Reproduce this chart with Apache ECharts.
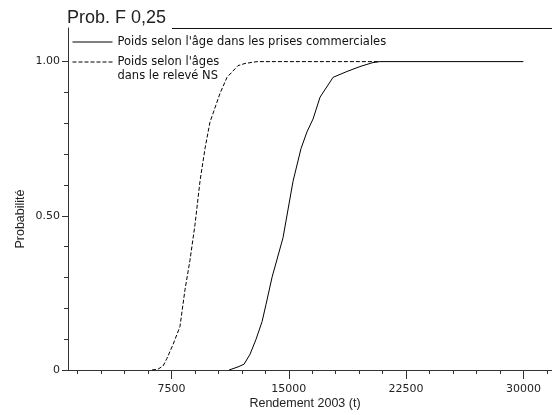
<!DOCTYPE html>
<html>
<head>
<meta charset="utf-8">
<script src="https://cdn.jsdelivr.net/npm/echarts@6/dist/echarts.min.js"></script>
<style>
  html, body { margin: 0; padding: 0; background: #fff; }
  #chart { width: 552px; height: 415px; }
</style>
</head>
<body>
<div id="chart"></div>
<script>
// courbe des prises commerciales (trait plein)
const rendementCom = [11180, 11750, 12140, 12520, 12900, 13290, 13540, 13930, 14630, 15270, 15780, 16160, 16550, 17000, 17830, 18720, 19550, 20380, 20830, 30000];
const probCom = [0, 0.010, 0.019, 0.051, 0.099, 0.157, 0.212, 0.301, 0.429, 0.612, 0.718, 0.772, 0.814, 0.885, 0.949, 0.968, 0.984, 0.997, 1, 1];

// courbe du relevé NS (pointillé)
const rendementNS = [6250, 6640, 6960, 7210, 7600, 8040, 8360, 8680, 9000, 9320, 9640, 9960, 10600, 11050, 11750, 12200, 12970, 20700];
const probNS = [0, 0.003, 0.013, 0.038, 0.083, 0.141, 0.260, 0.356, 0.471, 0.612, 0.718, 0.804, 0.897, 0.949, 0.987, 0.994, 1, 1];

// graduations
const xTicksMinor = [1500, 3000, 4500, 6000, 7500, 9000, 10500, 12000, 13500, 15000, 16500, 18000, 19500, 21000, 22500, 24000, 25500, 27000, 28500, 30000, 31500];
const xTicksMajor = [7500, 15000, 22500, 30000];
const yTicksMinor = [0.1, 0.2, 0.3, 0.4, 0.6, 0.7, 0.8, 0.9];
const yTicksMajor = [0, 0.5, 1];

const nomCom = 'Poids selon l\'âge dans les prises commerciales';
const nomNS = 'Poids selon l\'âges\ndans le relevé NS';

let chart = echarts.init(document.getElementById('chart'));

function zip(xs, ys) {
    let out = [];
    for (let i = 0; i < xs.length; i++) out.push([xs[i], ys[i]]);
    return out;
}

const axisColor = '#333';
const dash = [4, 2];
const xMin = 880, xMax = 31830;
const yMin = 0, yMax = 1.109;

let option = {
    animation: false,
    backgroundColor: '#fff',
    title: {
        text: 'Prob. F 0,25',
        left: 67,
        top: 9,
        padding: 0,
        textStyle: { fontFamily: 'Liberation Sans', fontSize: 18, fontWeight: 'normal', color: '#222' }
    },
    graphic: [{
        type: 'line',
        shape: { x1: 172, y1: 28.5, x2: 552, y2: 28.5 },
        style: { stroke: '#111', lineWidth: 1 }
    }, {
        type: 'text',
        x: 21,
        y: 219,
        rotation: Math.PI / 2,
        style: {
            text: 'Probabilité',
            fontFamily: 'Liberation Sans', fontSize: 12.5, fill: '#222',
            align: 'center', verticalAlign: 'middle'
        }
    }],
    legend: {
        orient: 'vertical',
        left: 72,
        top: 35,
        padding: 0,
        itemWidth: 40,
        itemHeight: 14,
        itemGap: -8,
        itemStyle: { color: 'transparent', borderColor: 'transparent', borderWidth: 0 },
        lineStyle: { width: 1, color: '#000' },
        textStyle: { fontFamily: 'DejaVu Sans', fontSize: 11.5, color: '#111', lineHeight: 14 },
        // ligne vide en tête : la première ligne du texte reste en face du trait
        formatter: function (name) { return name === nomNS ? ' \n' + name : name; },
        data: [
            { name: nomCom, lineStyle: { type: 'solid' } },
            { name: nomNS, lineStyle: { type: dash } }
        ]
    },
    grid: { left: 68, right: 0, top: 28, bottom: 41 },
    xAxis: [{
        type: 'value',
        min: xMin, max: xMax,
        name: 'Rendement 2003 (t)',
        nameLocation: 'middle',
        nameGap: 27,
        nameTextStyle: { fontFamily: 'Liberation Sans', fontSize: 12.5, color: '#222', padding: [0, 10, 0, 0] },
        splitLine: { show: false },
        axisLine: { onZero: false, lineStyle: { color: axisColor, width: 1 } },
        axisTick: { customValues: xTicksMinor, length: 4, lineStyle: { color: axisColor } },
        axisLabel: { show: false }
    }, {
        type: 'value',
        min: xMin, max: xMax,
        position: 'bottom',
        splitLine: { show: false },
        axisLine: { show: false, onZero: false },
        axisTick: { customValues: xTicksMajor, length: 9, lineStyle: { color: axisColor } },
        axisLabel: {
            customValues: xTicksMajor,
            margin: 14,
            fontFamily: 'DejaVu Sans', fontSize: 11, color: '#222',
            formatter: function (v) { return String(v); }
        }
    }],
    yAxis: [{
        type: 'value',
        min: yMin, max: yMax,
        splitLine: { show: false },
        axisLine: { onZero: false, lineStyle: { color: axisColor, width: 1 } },
        axisTick: { customValues: yTicksMinor, length: 4, lineStyle: { color: axisColor } },
        axisLabel: { show: false }
    }, {
        type: 'value',
        min: yMin, max: yMax,
        position: 'left',
        splitLine: { show: false },
        axisLine: { show: false, onZero: false },
        axisTick: { customValues: yTicksMajor, length: 6, lineStyle: { color: axisColor } },
        axisLabel: {
            customValues: yTicksMajor,
            margin: 8,
            fontFamily: 'DejaVu Sans', fontSize: 11, color: '#222',
            formatter: function (v) { return v === 0 ? '0' : v.toFixed(2); }
        }
    }],
    series: [{
        name: nomCom,
        type: 'line',
        data: zip(rendementCom, probCom),
        symbol: 'none',
        lineStyle: { color: '#000', width: 1, type: 'solid' },
        itemStyle: { color: '#000' }
    }, {
        name: nomNS,
        type: 'line',
        data: zip(rendementNS, probNS),
        symbol: 'none',
        lineStyle: { color: '#000', width: 1, type: dash },
        itemStyle: { color: '#000' }
    }]
};

chart.setOption(option);
</script>
</body>
</html>
